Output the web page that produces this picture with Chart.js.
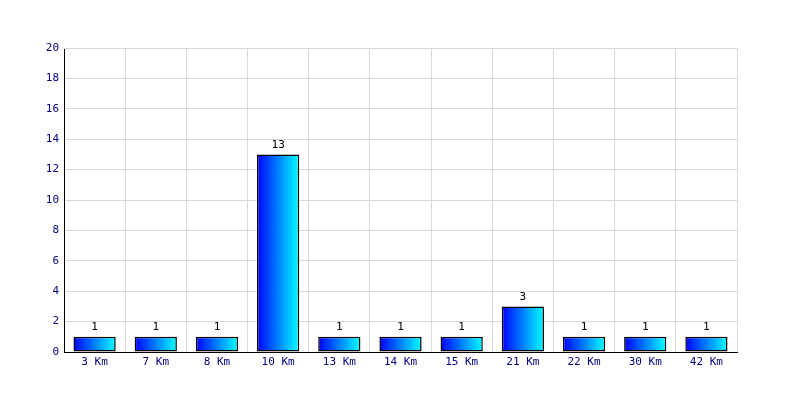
<!DOCTYPE html>
<html>
<head>
<meta charset="utf-8">
<script src="https://cdn.jsdelivr.net/npm/chart.js@4/dist/chart.umd.min.js"></script>
<style>
  html, body { margin: 0; padding: 0; background: #fff; }
  #wrap { width: 800px; height: 400px; }
</style>
</head>
<body>
<div id="wrap"><canvas id="myChart" width="800" height="400"></canvas></div>
<script>
const categories = ["3 Km", "7 Km", "8 Km", "10 Km", "13 Km", "14 Km", "15 Km", "21 Km", "22 Km", "30 Km", "42 Km"];
const counts = [1, 1, 1, 13, 1, 1, 1, 3, 1, 1, 1];
const yTicks = [0, 2, 4, 6, 8, 10, 12, 14, 16, 18, 20];

const labelFont = { family: "'DejaVu Sans Mono', monospace", size: 11 };
const barShare = 0.69;

// draws the count above each bar
const valueLabels = {
  id: "valueLabels",
  afterDatasetsDraw(chart) {
    const ctx = chart.ctx;
    const meta = chart.getDatasetMeta(0);
    ctx.save();
    ctx.fillStyle = "#000";
    ctx.font = "11px 'DejaVu Sans Mono', monospace";
    ctx.textAlign = "center";
    ctx.textBaseline = "bottom";
    meta.data.forEach((bar, i) => {
      ctx.fillText(String(counts[i]), bar.x, bar.y - 4);
    });
    ctx.restore();
  }
};

function barGradient(context) {
  const chart = context.chart;
  const xScale = chart.scales.x;
  if (!chart.chartArea || !xScale) return "#0000ff";
  const cx = xScale.getPixelForValue(context.dataIndex);
  const half = (xScale.width / categories.length) * barShare / 2;
  if (!isFinite(cx) || !isFinite(half)) return "#0000ff";
  const g = chart.ctx.createLinearGradient(cx - half, 0, cx + half, 0);
  g.addColorStop(0, "#0000ff");
  g.addColorStop(1, "#00ffff");
  return g;
}

new Chart(document.getElementById("myChart"), {
  type: "bar",
  data: {
    labels: categories,
    datasets: [{
      data: counts,
      backgroundColor: barGradient,
      borderColor: "#000",
      borderWidth: 1.5,
      borderSkipped: false,
      categoryPercentage: barShare,
      barPercentage: 1.0
    }]
  },
  options: {
    responsive: false,
    animation: false,
    layout: { padding: { top: 48, right: 63, left: 0, bottom: 0 } },
    plugins: {
      legend: { display: false },
      tooltip: { enabled: false }
    },
    scales: {
      x: {
        grid: { color: "#d8d8d8", drawTicks: false, offset: true },
        border: { color: "#000", width: 1 },
        ticks: { color: "#000080", font: labelFont, padding: 4, maxRotation: 0 },
        afterFit(scale) { scale.height = 48; }
      },
      y: {
        min: 0,
        max: 20,
        afterBuildTicks(scale) { scale.ticks = yTicks.map(v => ({ value: v })); },
        grid: { color: "#d8d8d8", drawTicks: false },
        border: { color: "#000", width: 1 },
        ticks: { color: "#000080", font: labelFont, padding: 5 },
        afterFit(scale) { scale.width = 64; }
      }
    }
  },
  plugins: [valueLabels, {
    id: "frame",
    afterDraw(chart) {
      const a = chart.chartArea;
      const ctx = chart.ctx;
      ctx.save();
      ctx.strokeStyle = "#d8d8d8";
      ctx.lineWidth = 1;
      ctx.beginPath();
      ctx.moveTo(a.left, a.top + 0.5);
      ctx.lineTo(a.right + 0.5, a.top + 0.5);
      ctx.lineTo(a.right + 0.5, a.bottom);
      ctx.stroke();
      ctx.restore();
    }
  }]
});
</script>
</body>
</html>
